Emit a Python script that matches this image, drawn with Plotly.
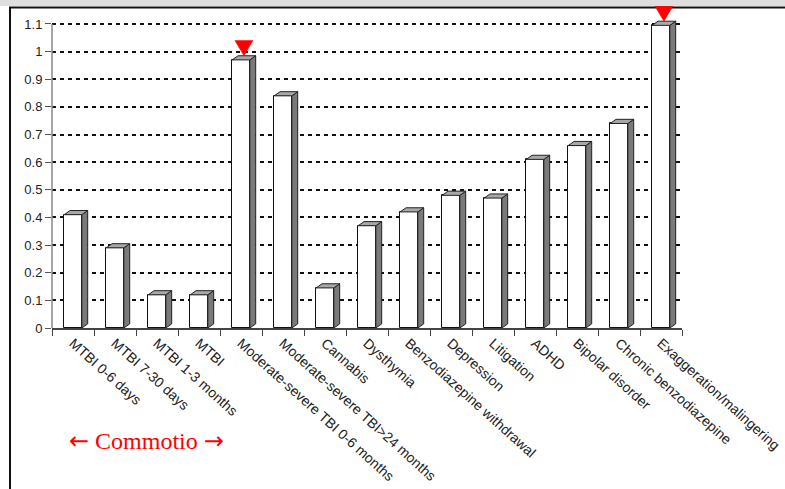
import plotly.graph_objects as go

categories = ["MTBI 0-6 days", "MTBI 7-30 days", "MTBI 1-3 months", "MTBI",
              "Moderate-severe TBI 0-6 months", "Moderate-severe TBI>24 months",
              "Cannabis", "Dysthymia", "Benzodiazepine withdrawal", "Depression",
              "Litigation", "ADHD", "Bipolar disorder", "Chronic benzodiazepine",
              "Exaggeration/malingering"]
values = [0.41, 0.29, 0.12, 0.12, 0.97, 0.84, 0.145, 0.37, 0.42, 0.48,
          0.47, 0.61, 0.66, 0.74, 1.095]
flagged = [4, 14]
ytick_vals = [0, 0.1, 0.2, 0.3, 0.4, 0.5, 0.6, 0.7, 0.8, 0.9, 1.0, 1.1]
ytick_text = ["0", "0.1", "0.2", "0.3", "0.4", "0.5", "0.6", "0.7", "0.8", "0.9", "1", "1.1"]

W, H = 785, 489
L, R, T, B = 52, 103, 6, 161
PW, PH = W - L - R, H - T - B
YMAX = 1.165
n = len(categories)
xs = list(range(n))

def px_x(X):
    return (X - L) / PW

def px_y(Y):
    return (T + PH - Y) / PH

bw = 0.42      # front face width (category units)
dx = 0.14      # depth offset x
dy = 0.015     # depth offset y

side_x, side_y, top_x, top_y = [], [], [], []
for i, v in zip(xs, values):
    l, r = i - bw / 2, i + bw / 2
    side_x += [r, r + dx, r + dx, r, r, None]
    side_y += [0, dy, v + dy, v, 0, None]
    top_x += [l, l + dx, r + dx, r, l, None]
    top_y += [v, v + dy, v + dy, v, v, None]

tri_x, tri_y = [], []
for i in flagged:
    v = values[i]
    c = i + dx / 2
    tri_x += [c - 0.215, c + 0.215, c, c - 0.215, None]
    tri_y += [v + 0.07, v + 0.07, v + dy, v + 0.07, None]

fig = go.Figure()
fig.add_trace(go.Bar(x=xs, y=values, width=bw, marker=dict(color="white", line=dict(color="#111", width=1)),
                     hoverinfo="skip", showlegend=False))
fig.add_trace(go.Scatter(x=side_x, y=side_y, mode="lines", fill="toself", fillcolor="#7a7a7a",
                         line=dict(color="#222", width=1), hoverinfo="skip", showlegend=False))
fig.add_trace(go.Scatter(x=top_x, y=top_y, mode="lines", fill="toself", fillcolor="#a8a8a8",
                         line=dict(color="#222", width=1), hoverinfo="skip", showlegend=False))
fig.add_trace(go.Scatter(x=tri_x, y=tri_y, mode="lines", fill="toself", fillcolor="#ff0000",
                         line=dict(color="#ff0000", width=0.5), hoverinfo="skip", showlegend=False))

arrow = "<span style='font-family:DejaVu Sans'>{}</span>"
fig.update_layout(
    width=W, height=H,
    margin=dict(l=L, r=R, t=T, b=B, autoexpand=False),
    paper_bgcolor="white", plot_bgcolor="rgba(0,0,0,0)",
    font=dict(family="Liberation Sans, Arial, sans-serif", color="#222", size=12),
    bargap=0,
    xaxis=dict(range=[-0.5, n - 0.5], tickmode="array", tickvals=xs, ticktext=categories,
               tickangle=42, ticks="", showgrid=False, zeroline=False, automargin=False,
               showline=True, linecolor="#444", linewidth=1.5,
               tickfont=dict(size=14, color="#222"),
               minor=dict(tickmode="linear", tick0=-0.5, dtick=1, ticks="outside",
                          ticklen=6, tickcolor="#444", tickwidth=1, showgrid=False)),
    yaxis=dict(range=[0, YMAX], tickmode="array", tickvals=ytick_vals, ticktext=ytick_text,
               showgrid=True, gridcolor="#111", gridwidth=2, griddash="4px,4px", automargin=False,
               zeroline=False, showline=False, ticks="outside", ticklen=6,
               tickcolor="#555", tickwidth=1, tickfont=dict(size=13, color="#222")),
    shapes=[
        dict(type="line", xref="paper", yref="y", x0=0, x1=0, y0=0, y1=1.1,
             line=dict(color="#888", width=1.5), layer="above"),
        dict(type="rect", xref="paper", yref="paper", x0=px_x(0), x1=px_x(W), y0=px_y(0), y1=px_y(6),
             fillcolor="#dedede", line=dict(width=0), layer="below"),
        dict(type="line", xref="paper", yref="paper", x0=px_x(9), x1=px_x(W), y0=px_y(7.5), y1=px_y(7.5),
             line=dict(color="#111", width=2), layer="below"),
        dict(type="line", xref="paper", yref="paper", x0=px_x(10), x1=px_x(10), y0=px_y(7.5), y1=px_y(H),
             line=dict(color="#111", width=2)),
    ],
    annotations=[
        dict(text=arrow.format("←") + " Commotio " + arrow.format("→"),
             xref="paper", yref="paper", x=px_x(146), y=px_y(441),
             showarrow=False, xanchor="center", yanchor="middle",
             font=dict(family="Liberation Serif, Times New Roman, serif", size=24, color="#ff0000")),
    ],
)

fig.write_html("out.html")
